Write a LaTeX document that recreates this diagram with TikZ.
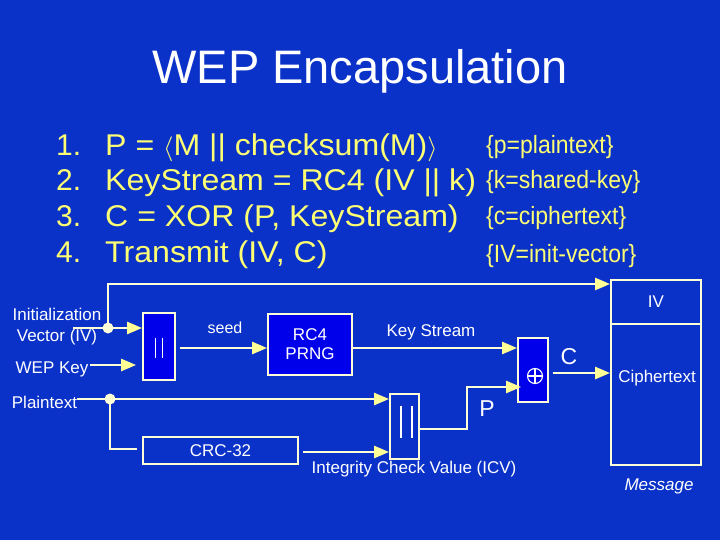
\documentclass[tikz,border=0pt]{standalone}
\usepackage{fontspec}
\setmainfont{Liberation Sans}
\usetikzlibrary{arrows.meta,calc}
\definecolor{bgblue}{RGB}{10,50,200}
\definecolor{boxblue}{RGB}{0,0,235}
\definecolor{linecol}{RGB}{255,255,215}
\definecolor{tipcol}{RGB}{255,255,150}
\definecolor{listcol}{RGB}{255,255,115}
\begin{document}
\begin{tikzpicture}[x=1pt,y=-1pt,
  wire/.style={draw=linecol,line width=2.6pt},
  arr/.style={wire,-{Triangle[length=15pt,width=12pt,color=tipcol]}},
  box/.style={draw=linecol,line width=1.8pt,inner sep=0pt,text=white},
  lab/.style={text=white,inner sep=0pt,font=\fontsize{17}{21}\selectfont},
  big/.style={text=white,inner sep=0pt,font=\fontsize{23}{26}\selectfont},
  listtxt/.style={text=listcol,inner sep=0pt,anchor=base west,font=\fontsize{30}{34}\selectfont},
  note/.style={text=listcol,inner sep=0pt,anchor=base west,font=\fontsize{25}{30}\selectfont}]
\fill[bgblue] (0,0) rectangle (720,540);
\useasboundingbox (0,0) rectangle (720,540);

% title
\node[text=white,inner sep=0pt,anchor=base,font=\fontsize{47}{55}\selectfont] (title) at (360,84) {WEP Encapsulation};

% list
\node[listtxt] (n1) at (56,156) {1.};
\node[listtxt] (n2) at (56,191) {2.};
\node[listtxt] (n3) at (56,226) {3.};
\node[listtxt] (n4) at (56,262) {4.};
\node[listtxt] (l1) at (105,156) {\scalebox{1.07}[1]{P = $\langle$M || checksum(M)$\rangle$}};
\node[listtxt] (l2) at (105,191) {\scalebox{1.07}[1]{KeyStream = RC4 (IV || k)}};
\node[listtxt] (l3) at (105,226) {\scalebox{1.07}[1]{C = XOR (P, KeyStream)}};
\node[listtxt] (l4) at (105,262) {\scalebox{1.07}[1]{Transmit (IV, C)}};
\node[note] (a1) at (486,154) {\scalebox{0.92}[1]{\{p=plaintext\}}};
\node[note] (a2) at (486,189) {\scalebox{0.92}[1]{\{k=shared-key\}}};
\node[note] (a3) at (486,225) {\scalebox{0.92}[1]{\{c=ciphertext\}}};
\node[note] (a4) at (486,262) {\scalebox{0.92}[1]{\{IV=init-vector\}}};

% boxes
\node[box,fill=boxblue,minimum width=32,minimum height=67] (cat1) at (159,346.5) {};
\node[box,fill=boxblue,minimum width=84,minimum height=61,align=center,font=\fontsize{17}{19}\selectfont] (rc4) at (310,344.5) {RC4\\PRNG};
\node[box,fill=boxblue,minimum width=30,minimum height=64] (xor) at (533,370) {};
\node[box,minimum width=90,minimum height=44,font=\fontsize{17}{20}\selectfont] (msgiv) at (656,302) {IV};
\node[box,minimum width=90,minimum height=141] (msgct) at (656,394.5) {};
\node[box,minimum width=29,minimum height=65] (cat2) at (404.5,426.5) {};
\node[box,minimum width=155,minimum height=27,font=\fontsize{17}{20}\selectfont] (crc) at (220.5,450.5) {CRC-32};

% inner marks
\draw[white,line width=1.1pt] ($(cat1.center)+(-3.5,-9)$) -- ($(cat1.center)+(-3.5,11)$);
\draw[white,line width=1.1pt] ($(cat1.center)+(3.5,-9)$) -- ($(cat1.center)+(3.5,11)$);
\draw[white,line width=1.1pt] ($(cat2.center)+(-3.5,-21)$) -- ($(cat2.center)+(-3.5,11)$);
\draw[white,line width=1.1pt] ($(cat2.center)+(7.5,-21)$) -- ($(cat2.center)+(7.5,11)$);
\coordinate (xorc) at ($(xor.center)+(2,6)$);
\draw[white,line width=1.1pt] (xorc) circle[radius=7.5];
\draw[white,line width=1.1pt] ($(xorc)+(-7.5,0)$) -- ($(xorc)+(7.5,0)$);
\draw[white,line width=1.1pt] ($(xorc)+(0,-7.5)$) -- ($(xorc)+(0,7.5)$);

% labels
\node[lab,align=center] (ivtxt) at (57,326.5) {Initialization\\Vector (IV)};
\node[lab] (wktxt) at (52,369) {WEP Key};
\node[lab] (pttxt) at (44.5,402) {Plaintext};
\node[lab,font=\fontsize{16}{20}\selectfont] (seedtxt) at (225,328) {seed};
\node[lab] (kstxt) at (431,332) {Key Stream};
\node[big] (ctxt) at (569,357) {C};
\node[big] (ptxt) at (487,409) {P};
\node[lab] (icvtxt) at (414,469) {Integrity Check Value (ICV)};
\node[lab] (cttxt) at (657,378) {Ciphertext};
\node[lab,font=\fontsize{17}{20}\itshape] (msgtxt) at (659,486) {Message};

% connectors
\coordinate (ivs) at (73,328);
\coordinate (jiv) at (108,328);
\coordinate (ivtop) at (108,284);
\draw[arr] (ivs) -- (cat1.west |- ivs);
\draw[arr] (jiv) -- (ivtop) -- (msgiv.west |- ivtop);
\coordinate (wks) at (90,365);
\draw[arr] (wks) -- ($(cat1.west |- wks)+(-6,0)$);
\coordinate (seedy) at (0,348);
\draw[arr] ($(cat1.east |- seedy)+(4,0)$) -- (rc4.west |- seedy);
\draw[arr] (rc4.east |- seedy) -- (xor.west |- seedy);
\coordinate (cy) at (0,373);
\draw[arr] ($(xor.east |- cy)+(4,0)$) -- (msgct.west |- cy);
\coordinate (pts) at (77,399);
\coordinate (jpt) at (110,399);
\draw[arr] (pts) -- (cat2.west |- pts);
\coordinate (crcin) at (137,449);
\draw[wire] (jpt) |- (crcin);
\coordinate (icvy) at (0,452);
\draw[arr] ($(crc.east |- icvy)+(4,0)$) -- (cat2.west |- icvy);
\coordinate (py) at (0,429);
\coordinate (pturn) at (467,387);
\draw[arr] (cat2.east |- py) -| (pturn) -- ($(xor.west |- pturn)+(4,0)$);
\fill[linecol] (jiv) circle[radius=5.5];
\fill[linecol] (jpt) circle[radius=5.5];
\end{tikzpicture}
\end{document}
